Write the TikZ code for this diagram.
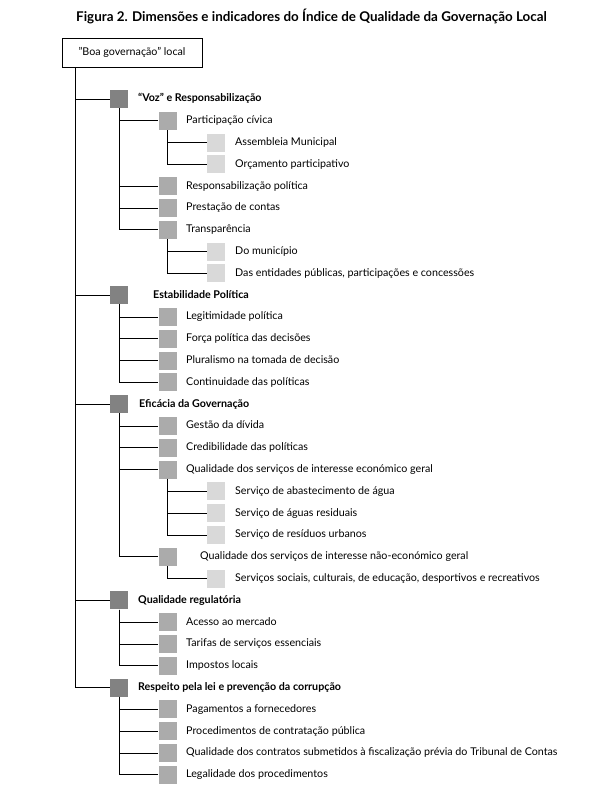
\documentclass[tikz,border=0pt]{standalone}
\usepackage{fontspec}
\setmainfont{Lato}
\begin{document}
\begin{tikzpicture}[
  x=1pt, y=-1pt,
  font=\fontsize{10.7}{12}\selectfont,
  sqA/.style={fill=dimA, minimum size=18pt, inner sep=0pt},
  sqB/.style={fill=dimB, minimum size=18pt, inner sep=0pt},
  sqC/.style={fill=dimC, minimum size=18pt, inner sep=0pt},
  txt/.style={anchor=west, inner sep=0pt, text height=1.6ex, text depth=0.45ex},
  head/.style={txt, font=\fontsize{10.7}{12}\selectfont\bfseries},
  link/.style={draw=black, line width=0.9pt},
]
\definecolor{dimA}{HTML}{828282}
\definecolor{dimB}{HTML}{ABABAB}
\definecolor{dimC}{HTML}{D9D9D9}
\useasboundingbox (0,0) rectangle (604,797);

\node[font=\fontsize{13.4}{15}\selectfont\bfseries] (title) at (311.5,16)
  {Figura 2. Dimensões e indicadores do Índice de Qualidade da Governação Local};
\node[draw, line width=0.9pt, minimum width=140pt, minimum height=29pt, inner sep=0pt]
  (root) at (132,52.5) {\symbol{34}Boa governação\symbol{34} local};
\coordinate (trunk) at ([xshift=14pt]root.south west);

% ---- "Voz" e Responsabilização ----
\node[sqA] (voz) at (119,99.0) {};
\node[head] (voz-l) at (138,99.0) {“Voz” e Responsabilização};
\node[sqB] (voz1) at (167.5,120.8) {};
\node[txt] (voz1-l) at (186,120.8) {Participação cívica};
\node[sqC] (voz1a) at (216,142.6) {};
\node[txt] (voz1a-l) at (235,142.6) {Assembleia Municipal};
\node[sqC] (voz1b) at (216,164.4) {};
\node[txt] (voz1b-l) at (235,164.4) {Orçamento participativo};
\node[sqB] (voz2) at (167.5,186.2) {};
\node[txt] (voz2-l) at (186,186.2) {Responsabilização política};
\node[sqB] (voz3) at (167.5,208.0) {};
\node[txt] (voz3-l) at (186,208.0) {Prestação de contas};
\node[sqB] (voz4) at (167.5,229.8) {};
\node[txt] (voz4-l) at (186,229.8) {Transparência};
\node[sqC] (voz4a) at (216,251.6) {};
\node[txt] (voz4a-l) at (235,251.6) {Do município};
\node[sqC] (voz4b) at (216,273.4) {};
\node[txt] (voz4b-l) at (235,273.4) {Das entidades públicas, participações e concessões};

% ---- Estabilidade Política ----
\node[sqA] (est) at (119,295.2) {};
\node[head] (est-l) at (153,295.2) {Estabilidade Política};
\node[sqB] (est1) at (167.5,317.0) {};
\node[txt] (est1-l) at (186,317.0) {Legitimidade política};
\node[sqB] (est2) at (167.5,338.8) {};
\node[txt] (est2-l) at (186,338.8) {Força política das decisões};
\node[sqB] (est3) at (167.5,360.6) {};
\node[txt] (est3-l) at (186,360.6) {Pluralismo na tomada de decisão};
\node[sqB] (est4) at (167.5,382.4) {};
\node[txt] (est4-l) at (186,382.4) {Continuidade das políticas};

% ---- Eficácia da Governação ----
\node[sqA] (efi) at (119,404.2) {};
\node[head] (efi-l) at (139,404.2) {Eficácia da Governação};
\node[sqB] (efi1) at (167.5,426.0) {};
\node[txt] (efi1-l) at (186,426.0) {Gestão da dívida};
\node[sqB] (efi2) at (167.5,447.8) {};
\node[txt] (efi2-l) at (186,447.8) {Credibilidade das políticas};
\node[sqB] (efi3) at (167.5,469.6) {};
\node[txt] (efi3-l) at (186,469.6) {Qualidade dos serviços de interesse económico geral};
\node[sqC] (efi3a) at (216,491.4) {};
\node[txt] (efi3a-l) at (235,491.4) {Serviço de abastecimento de água};
\node[sqC] (efi3b) at (216,513.2) {};
\node[txt] (efi3b-l) at (235,513.2) {Serviço de águas residuais};
\node[sqC] (efi3c) at (216,535.0) {};
\node[txt] (efi3c-l) at (235,535.0) {Serviço de resíduos urbanos};
\node[sqB] (efi4) at (167.5,556.8) {};
\node[txt] (efi4-l) at (200,556.8) {Qualidade dos serviços de interesse não-económico geral};
\node[sqC] (efi4a) at (216,578.6) {};
\node[txt] (efi4a-l) at (235,578.6) {Serviços sociais, culturais, de educação, desportivos e recreativos};

% ---- Qualidade regulatória ----
\node[sqA] (reg) at (119,600.4) {};
\node[head] (reg-l) at (138,600.4) {Qualidade regulatória};
\node[sqB] (reg1) at (167.5,622.2) {};
\node[txt] (reg1-l) at (186,622.2) {Acesso ao mercado};
\node[sqB] (reg2) at (167.5,644.0) {};
\node[txt] (reg2-l) at (186,644.0) {Tarifas de serviços essenciais};
\node[sqB] (reg3) at (167.5,665.8) {};
\node[txt] (reg3-l) at (186,665.8) {Impostos locais};

% ---- Respeito pela lei ----
\node[sqA] (lei) at (119,687.6) {};
\node[head] (lei-l) at (138,687.6) {Respeito pela lei e prevenção da corrupção};
\node[sqB] (lei1) at (167.5,709.4) {};
\node[txt] (lei1-l) at (186,709.4) {Pagamentos a fornecedores};
\node[sqB] (lei2) at (167.5,731.2) {};
\node[txt] (lei2-l) at (186,731.2) {Procedimentos de contratação pública};
\node[sqB] (lei3) at (167.5,753.0) {};
\node[txt] (lei3-l) at (186,753.0) {Qualidade dos contratos submetidos à fiscalização prévia do Tribunal de Contas};
\node[sqB] (lei4) at (167.5,774.8) {};
\node[txt] (lei4-l) at (186,774.8) {Legalidade dos procedimentos};

% ---- connectors ----
\foreach \d in {voz,est,efi,reg,lei} \draw[link] (trunk) |- (\d.west);
\foreach \c in {voz1,voz2,voz3,voz4} \draw[link] (voz.south) |- (\c.west);
\foreach \c in {voz1a,voz1b} \draw[link] (voz1.south) |- (\c.west);
\foreach \c in {voz4a,voz4b} \draw[link] (voz4.south) |- (\c.west);
\foreach \c in {est1,est2,est3,est4} \draw[link] (est.south) |- (\c.west);
\foreach \c in {efi1,efi2,efi3,efi4} \draw[link] (efi.south) |- (\c.west);
\foreach \c in {efi3a,efi3b,efi3c} \draw[link] (efi3.south) |- (\c.west);
\draw[link] (efi4.south) |- (efi4a.west);
\foreach \c in {reg1,reg2,reg3} \draw[link] (reg.south) |- (\c.west);
\foreach \c in {lei1,lei2,lei3,lei4} \draw[link] (lei.south) |- (\c.west);
\end{tikzpicture}
\end{document}
